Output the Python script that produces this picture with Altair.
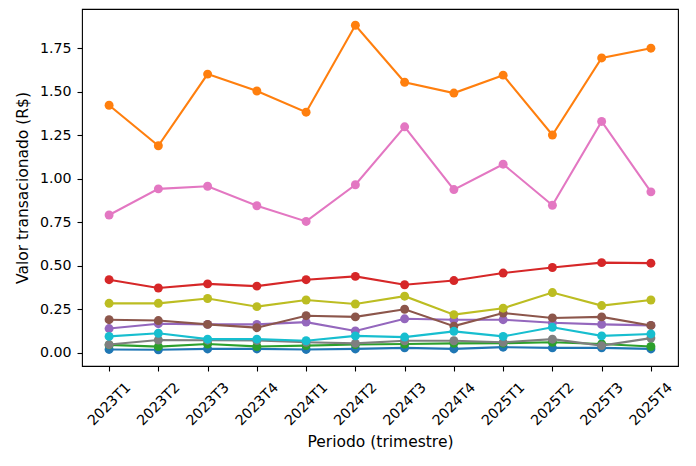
import altair as alt
import pandas as pd

periodos = ["2023T1", "2023T2", "2023T3", "2023T4", "2024T1", "2024T2",
            "2024T3", "2024T4", "2025T1", "2025T2", "2025T3", "2025T4"]

serie_azul = [0.019, 0.017, 0.022, 0.022, 0.019, 0.022, 0.028, 0.022, 0.032, 0.028, 0.028, 0.022]
serie_laranja = [1.423, 1.190, 1.602, 1.505, 1.383, 1.883, 1.555, 1.493, 1.596, 1.252, 1.695, 1.751]
serie_verde = [0.045, 0.035, 0.050, 0.036, 0.041, 0.047, 0.050, 0.054, 0.055, 0.060, 0.050, 0.036]
serie_vermelha = [0.420, 0.372, 0.396, 0.383, 0.420, 0.439, 0.391, 0.415, 0.458, 0.490, 0.518, 0.515]
serie_roxa = [0.139, 0.167, 0.163, 0.163, 0.176, 0.125, 0.195, 0.190, 0.190, 0.172, 0.163, 0.157]
serie_marrom = [0.190, 0.185, 0.163, 0.144, 0.213, 0.206, 0.250, 0.153, 0.228, 0.200, 0.206, 0.157]
serie_rosa = [0.792, 0.942, 0.957, 0.845, 0.755, 0.966, 1.299, 0.938, 1.084, 0.848, 1.330, 0.925]
serie_cinza = [0.047, 0.073, 0.072, 0.070, 0.060, 0.054, 0.069, 0.069, 0.060, 0.078, 0.041, 0.084]
serie_oliva = [0.284, 0.284, 0.312, 0.265, 0.303, 0.280, 0.325, 0.219, 0.256, 0.346, 0.271, 0.303]
serie_ciano = [0.094, 0.112, 0.078, 0.078, 0.069, 0.097, 0.090, 0.123, 0.094, 0.146, 0.097, 0.108]

nomes = ["Série 1", "Série 2", "Série 3", "Série 4", "Série 5",
         "Série 6", "Série 7", "Série 8", "Série 9", "Série 10"]
cores = ["#1f77b4", "#ff7f0e", "#2ca02c", "#d62728", "#9467bd",
         "#8c564b", "#e377c2", "#7f7f7f", "#bcbd22", "#17becf"]
valores = [serie_azul, serie_laranja, serie_verde, serie_vermelha, serie_roxa,
           serie_marrom, serie_rosa, serie_cinza, serie_oliva, serie_ciano]

rows = []
for nome, vals in zip(nomes, valores):
    for p, v in zip(periodos, vals):
        rows.append({"serie": nome, "periodo": p, "valor": v})
df = pd.DataFrame(rows)

x_enc = alt.X("periodo:O", sort=periodos,
              scale=alt.Scale(type="point", padding=0.55),
              axis=alt.Axis(title="Periodo (trimestre)", labelAngle=-45,
                            labelAlign="center", labelBaseline="middle",
                            labelPadding=33, titleY=80,
                            titleBaseline="alphabetic", titleAlign="center"))
y_enc = alt.Y("valor:Q",
              scale=alt.Scale(domain=[-0.0763, 1.9763], nice=False, zero=False),
              axis=alt.Axis(title="Valor transacionado (R$)",
                            values=[0, 0.25, 0.5, 0.75, 1.0, 1.25, 1.5, 1.75],
                            format=".2f", labelPadding=6,
                            titleX=-60, titleY=178.5, titleAngle=-90,
                            titleAlign="center", titleBaseline="middle"))

layers = []
base = alt.Chart(df)
for nome, cor in zip(nomes, cores):
    sub = base.transform_filter(alt.datum.serie == nome)
    layers.append(sub.mark_line(color=cor, strokeWidth=2.1).encode(x=x_enc, y=y_enc))
    layers.append(sub.mark_circle(color=cor, size=80, opacity=1).encode(x=x_enc, y=y_enc))

chart = alt.layer(*layers).properties(
    width=596, height=357,
    autosize=alt.AutoSizeParams(type="none"),
    padding={"left": 74, "top": 1, "right": 8, "bottom": 86},
).configure_view(
    stroke="black", strokeWidth=1.1
).configure_axis(
    grid=False, domain=False,
    labelFont="DejaVu Sans", labelFontSize=14.2, labelColor="black",
    titleFont="DejaVu Sans", titleFontSize=15.5, titleColor="black",
    titleFontWeight="normal",
    tickColor="black", tickSize=5, tickWidth=1.1,
)

chart.save("out.html", embed_options={"renderer": "svg", "actions": False})
